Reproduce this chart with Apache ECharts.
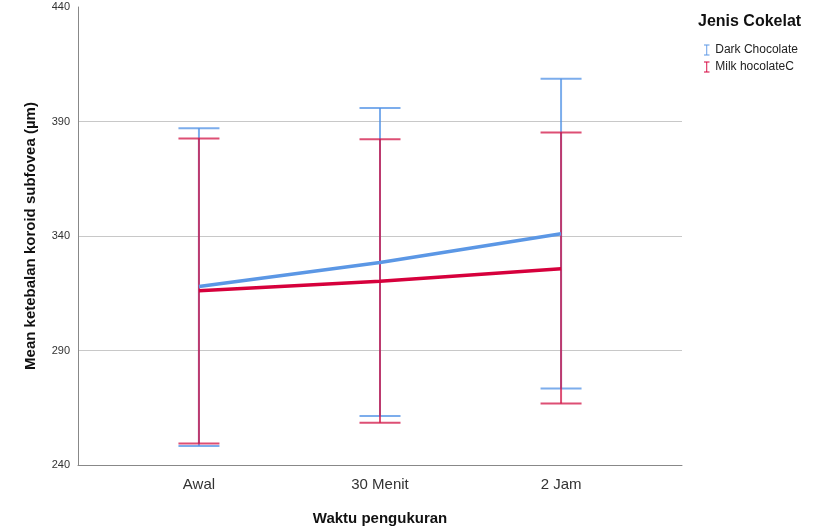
<!DOCTYPE html>
<html>
<head>
<meta charset="utf-8">
<script src="https://cdn.jsdelivr.net/npm/echarts@6/dist/echarts.min.js"></script>
<style>html,body{margin:0;padding:0;background:#fff}#c{width:818px;height:531px}</style>
</head>
<body>
<div id="c"></div>
<script>
var categories = ['Awal', '30 Menit', '2 Jam'];
var yTicks = [240, 290, 340, 390, 440];
var seriesNames = ['Dark Chocolate', 'Milk hocolateC'];
var darkMean = [317.9, 328.4, 341.0];
var darkLow = [248.3, 261.4, 273.4];
var darkHigh = [387.0, 395.9, 408.7];
var milkMean = [316.1, 320.2, 325.7];
var milkLow = [249.4, 258.5, 266.9];
var milkHigh = [382.6, 382.3, 385.2];

var blue = '#5B97E5', blueBar = 'rgba(80,145,230,0.75)';
var red = '#D6003C', redBar = 'rgba(210,20,70,0.75)';
var font = 'Liberation Sans, Arial, sans-serif';

function lineData(arr) { return arr.map(function (v, i) { return [i, v]; }); }
function barData(lo, hi) { return lo.map(function (v, i) { return [i, v, hi[i]]; }); }
function errRender(color) {
  return function (params, api) {
    var x = api.value(0);
    var lo = api.coord([x, api.value(1)]);
    var hi = api.coord([x, api.value(2)]);
    var half = 20.5;
    var st = { stroke: color, lineWidth: 2 };
    return {
      type: 'group',
      children: [
        { type: 'line', shape: { x1: lo[0], y1: lo[1], x2: hi[0], y2: hi[1] }, style: st },
        { type: 'line', shape: { x1: hi[0] - half, y1: hi[1], x2: hi[0] + half, y2: hi[1] }, style: st },
        { type: 'line', shape: { x1: lo[0] - half, y1: lo[1], x2: lo[0] + half, y2: lo[1] }, style: st }
      ]
    };
  };
}
var iIcon = 'path://M0,0 L6,0 L6,1 L3.5,1 L3.5,11 L6,11 L6,12 L0,12 L0,11 L2.5,11 L2.5,1 L0,1 Z';

var chart = echarts.init(document.getElementById('c'), null, { renderer: 'canvas' });
chart.setOption({
  animation: false,
  textStyle: { fontFamily: font },
  grid: { left: 78, right: 136, top: 7, bottom: 66, containLabel: false },
  title: {
    text: 'Jenis Cokelat', left: 698, top: 14, padding: 0,
    textStyle: { fontFamily: font, fontSize: 16, fontWeight: 'bold', color: '#111' }
  },
  legend: {
    orient: 'vertical', left: 699, top: 39, itemGap: 5, itemWidth: 7, itemHeight: 11,
    data: [
      { name: seriesNames[0], icon: iIcon, itemStyle: { color: blue } },
      { name: seriesNames[1], icon: iIcon, itemStyle: { color: red } }
    ],
    textStyle: { fontFamily: font, fontSize: 12, color: '#222', padding: [0, 0, 0, 0] }
  },
  xAxis: {
    type: 'value', min: -0.668, max: 2.668,
    name: 'Waktu pengukuran', nameLocation: 'middle', nameGap: 46,
    nameTextStyle: { fontFamily: font, fontSize: 15, fontWeight: 'bold', color: '#111' },
    axisLine: { show: true, onZero: false, lineStyle: { color: '#888', width: 1 } },
    axisTick: { show: false },
    splitLine: { show: false },
    axisLabel: {
      customValues: [0, 1, 2], margin: 12, fontSize: 15, color: '#333',
      formatter: function (v) { return categories[Math.round(v)]; }
    }
  },
  yAxis: {
    type: 'value', min: yTicks[0], max: yTicks[yTicks.length - 1], interval: 50,
    name: 'Mean ketebalan koroid subfovea (µm)', nameLocation: 'middle', nameGap: 40,
    nameTextStyle: { fontFamily: font, fontSize: 15, fontWeight: 'bold', color: '#111' },
    axisLine: { show: true, onZero: false, lineStyle: { color: '#888', width: 1 } },
    axisTick: { show: false },
    splitLine: { show: true, showMaxLine: false, lineStyle: { color: '#c8c8c8', width: 1 } },
    axisLabel: { fontSize: 11, color: '#333', margin: 8 }
  },
  series: [
    { name: seriesNames[0], type: 'custom', renderItem: errRender(blueBar), data: barData(darkLow, darkHigh), encode: { x: 0, y: [1, 2] }, z: 2 },
    { name: seriesNames[1], type: 'custom', renderItem: errRender(redBar), data: barData(milkLow, milkHigh), encode: { x: 0, y: [1, 2] }, z: 3 },
    { name: seriesNames[0], type: 'line', data: lineData(darkMean), symbol: 'none', lineStyle: { color: blue, width: 3.5 }, itemStyle: { color: blue }, z: 4 },
    { name: seriesNames[1], type: 'line', data: lineData(milkMean), symbol: 'none', lineStyle: { color: red, width: 3.5 }, itemStyle: { color: red }, z: 4 }
  ]
});
</script>
</body>
</html>
